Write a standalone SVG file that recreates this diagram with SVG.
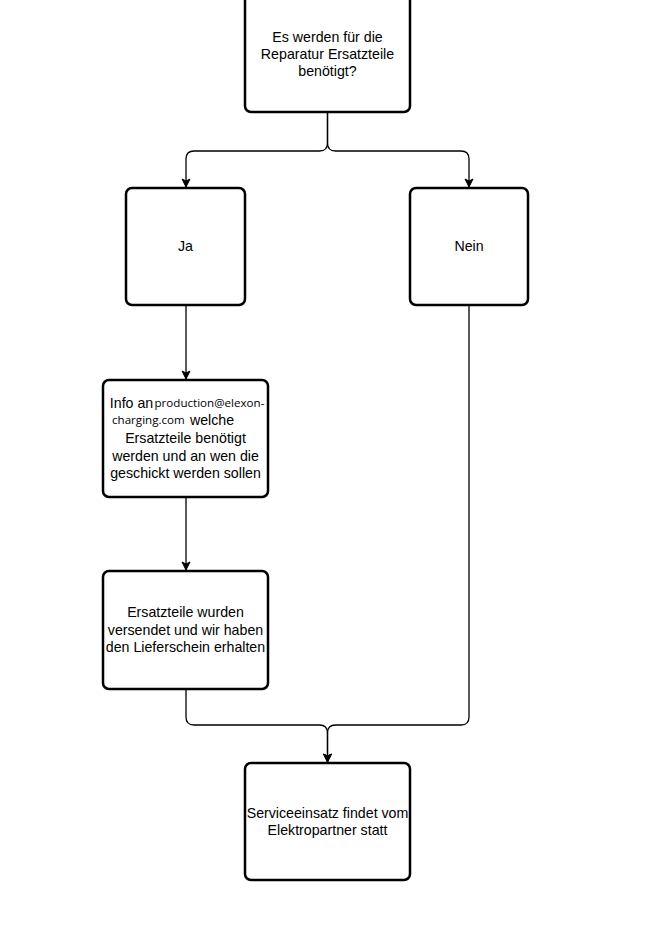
<svg xmlns="http://www.w3.org/2000/svg" width="659" height="942" viewBox="0 0 659 942">
<style>
.box{fill:#fff;stroke:#000;stroke-width:2.5}
.t{font-family:"Liberation Sans",Arial,sans-serif;font-size:14.2px;fill:#000;text-anchor:middle}
.s{font-family:"Open Sans","Noto Sans",sans-serif;font-size:11.6px;fill:#000}
.c{fill:none;stroke:#000;stroke-width:1.3}
</style>
<defs>
<marker id="arr" viewBox="0 0 10 10" refX="9" refY="5" markerWidth="10" markerHeight="10" markerUnits="userSpaceOnUse" orient="auto">
<path d="M1,1 L9,5 L1,9 L3,5 Z" fill="#000" stroke="#000" stroke-width="1"/>
</marker>
</defs>
<rect x="0" y="0" width="659" height="942" fill="#fff"/>
<g id="connectors">
<path class="c" d="M327.5 112 V143 Q327.5 151 319.5 151 H194 Q186 151 186 159 V187" marker-end="url(#arr)"/>
<path class="c" d="M327.5 112 V143 Q327.5 151 335.5 151 H461 Q469 151 469 159 V187" marker-end="url(#arr)"/>
<path class="c" d="M186 305 V379" marker-end="url(#arr)"/>
<path class="c" d="M186 497 V570" marker-end="url(#arr)"/>
<path class="c" d="M186 689 V717 Q186 725 194 725 H319.5 Q327.5 725 327.5 733 V762" marker-end="url(#arr)"/>
<path class="c" d="M469 305 V717 Q469 725 461 725 H335.5 Q327.5 725 327.5 733 V762" marker-end="url(#arr)"/>
</g>
<g id="n-question">
<rect class="box" x="245" y="-8" width="165" height="120" rx="6"/>
<text class="t" x="327.5" y="42">Es werden für die</text>
<text class="t" x="327.5" y="59">Reparatur Ersatzteile</text>
<text class="t" x="327.5" y="76">benötigt?</text>
</g>
<g id="n-ja">
<rect class="box" x="126" y="188" width="119" height="117" rx="6"/>
<text class="t" x="185.5" y="251">Ja</text>
</g>
<g id="n-nein">
<rect class="box" x="410" y="188" width="118" height="117" rx="6"/>
<text class="t" x="469" y="251">Nein</text>
</g>
<g id="n-info">
<rect class="box" x="103" y="380" width="165" height="117" rx="6"/>
<text class="t" x="131.5" y="408">Info an</text>
<text class="s" x="154.5" y="407">production@elexon-</text>
<text class="s" x="112" y="424">charging.com</text>
<text class="t" x="212" y="425">welche</text>
<text class="t" x="185.5" y="443">Ersatzteile benötigt</text>
<text class="t" x="185.5" y="461">werden und an wen die</text>
<text class="t" x="185.5" y="478">geschickt werden sollen</text>
</g>
<g id="n-versand">
<rect class="box" x="103" y="571" width="165" height="118" rx="6"/>
<text class="t" x="185.5" y="617">Ersatzteile wurden</text>
<text class="t" x="185.5" y="635">versendet und wir haben</text>
<text class="t" x="185.5" y="652">den Lieferschein erhalten</text>
</g>
<g id="n-service">
<rect class="box" x="245" y="763" width="165" height="117" rx="6"/>
<text class="t" x="327.5" y="818">Serviceeinsatz findet vom</text>
<text class="t" x="327.5" y="835">Elektropartner statt</text>
</g>
</svg>
